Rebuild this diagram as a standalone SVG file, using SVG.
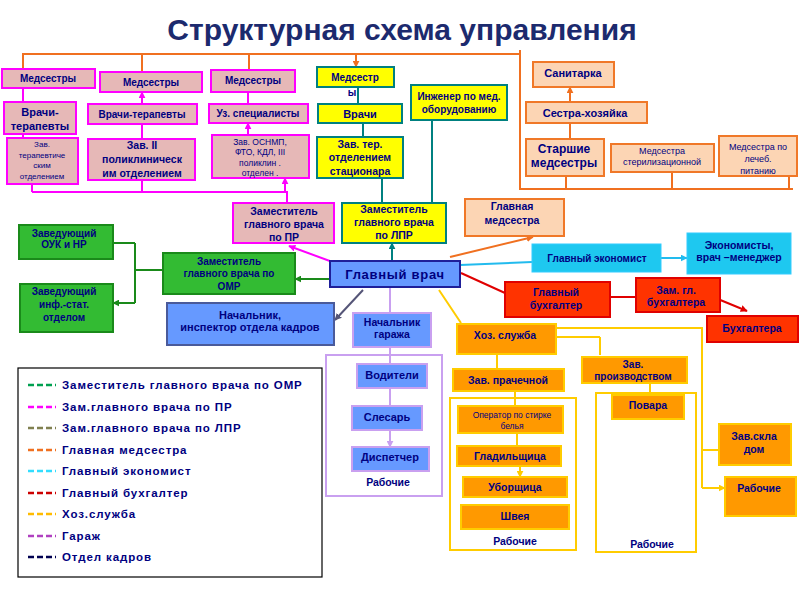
<svg xmlns="http://www.w3.org/2000/svg" width="800" height="600" viewBox="0 0 800 600">
<style>
text{font-family:"Liberation Sans",Arial,sans-serif;font-weight:bold;fill:#000080;text-anchor:middle}
.s{font-size:10.5px}
.m{font-size:10px}
.sm{font-size:8.5px;font-weight:normal}
.pink{fill:#e6b8b7;stroke:#ff00ff;stroke-width:2}
.peach{fill:#fcd5b4;stroke:#f07828;stroke-width:2}
.yel{fill:#ffff00;stroke:#008080;stroke-width:2}
.grn{fill:#33bb33;stroke:#1a8a1a;stroke-width:2}
.blu{fill:#6699ff;stroke:#4a5a9a;stroke-width:2}
.gar{fill:#6699ff;stroke:#c9a0f0;stroke-width:2}
.cyan{fill:#1ec8f0;stroke:#33ccff;stroke-width:1}
.red{fill:#ff3300;stroke:#e00000;stroke-width:2}
.org{fill:#ff9900;stroke:#ffcc00;stroke-width:2}
.frame{fill:#fff;stroke-width:2}
.c{fill:none;stroke-width:2}
.lg{font-size:11.5px;text-anchor:start;letter-spacing:0.9px}
.dash{stroke-width:2.5;stroke-dasharray:6,3}
</style>
<defs>
<marker id="aM" viewBox="0 0 10 10" refX="9" refY="5" markerWidth="7" markerHeight="7" markerUnits="userSpaceOnUse" orient="auto"><path d="M0,0L10,5L0,10z" fill="#ff00ff"/></marker>
<marker id="aO" viewBox="0 0 10 10" refX="9" refY="5" markerWidth="7" markerHeight="7" markerUnits="userSpaceOnUse" orient="auto"><path d="M0,0L10,5L0,10z" fill="#f07020"/></marker>
<marker id="aT" viewBox="0 0 10 10" refX="9" refY="5" markerWidth="7" markerHeight="7" markerUnits="userSpaceOnUse" orient="auto"><path d="M0,0L10,5L0,10z" fill="#008080"/></marker>
<marker id="aG" viewBox="0 0 10 10" refX="9" refY="5" markerWidth="7" markerHeight="7" markerUnits="userSpaceOnUse" orient="auto"><path d="M0,0L10,5L0,10z" fill="#1a8a1a"/></marker>
<marker id="aC" viewBox="0 0 10 10" refX="9" refY="5" markerWidth="7" markerHeight="7" markerUnits="userSpaceOnUse" orient="auto"><path d="M0,0L10,5L0,10z" fill="#22bbee"/></marker>
<marker id="aR" viewBox="0 0 10 10" refX="9" refY="5" markerWidth="7" markerHeight="7" markerUnits="userSpaceOnUse" orient="auto"><path d="M0,0L10,5L0,10z" fill="#e00000"/></marker>
<marker id="aY" viewBox="0 0 10 10" refX="9" refY="5" markerWidth="7" markerHeight="7" markerUnits="userSpaceOnUse" orient="auto"><path d="M0,0L10,5L0,10z" fill="#ffcc00"/></marker>
<marker id="aL" viewBox="0 0 10 10" refX="9" refY="5" markerWidth="7" markerHeight="7" markerUnits="userSpaceOnUse" orient="auto"><path d="M0,0L10,5L0,10z" fill="#c9a0f0"/></marker>
<marker id="aS" viewBox="0 0 10 10" refX="9" refY="5" markerWidth="7" markerHeight="7" markerUnits="userSpaceOnUse" orient="auto"><path d="M0,0L10,5L0,10z" fill="#555577"/></marker>
</defs>
<rect width="800" height="600" fill="#fff"/>
<text x="402" y="40" style="font-size:30px;fill:#1c2a6e">Структурная схема управления</text>

<g id="frames">
<rect x="326" y="355" width="116" height="141" class="frame" stroke="#c9a0f0"/>
<rect x="450" y="398" width="126" height="152" class="frame" stroke="#ffcc00"/>
<rect x="596" y="393" width="100" height="159" class="frame" stroke="#ffcc00"/>
<text x="388" y="486" class="s">Рабочие</text>
<text x="515" y="545" class="s">Рабочие</text>
<text x="652" y="548" class="s">Рабочие</text>
</g>

<g id="connectors">
<path class="c" stroke="#f07020" d="M22,54H520M520,50V189H793"/>
<path class="c" stroke="#f07020" marker-end="url(#aO)" d="M23,54V69M142,54V72M249,54V70M356,54V67"/>
<path class="c" stroke="#f07020" marker-end="url(#aO)" d="M566,189V176M672,189V172M789,189V176M570,139V123M570,102V87"/>
<path class="c" stroke="#ff00ff" d="M32,192H287V203"/>
<path class="c" stroke="#ff00ff" marker-end="url(#aM)" d="M32,192V184M142,192V180M285,192V178"/>
<path class="c" stroke="#ff00ff" marker-end="url(#aM)" d="M23,138V88M142,139V124M142,104V92"/>
<path class="c" stroke="#ff00ff" d="M248,104V92"/>
<path class="c" stroke="#ff00ff" marker-end="url(#aM)" d="M248,135V123"/>
<path class="c" stroke="#ff00ff" marker-end="url(#aM)" d="M338,264L289,246"/>
<path class="c" stroke="#008080" marker-end="url(#aT)" d="M382,203V178M432,203V120M363,137V123M358,104V87M392,261V243"/>
<path class="c" stroke="#1a8a1a" marker-end="url(#aG)" d="M330,279H295"/>
<path class="c" stroke="#1a8a1a" d="M163,270H135M135,243V303"/>
<path class="c" stroke="#1a8a1a" marker-end="url(#aG)" d="M135,243H113M135,303H113"/>
<path class="c" stroke="#f07020" marker-end="url(#aO)" d="M450,257L533,237"/>
<path class="c" stroke="#22bbee" marker-end="url(#aC)" d="M460,265L532,262M661,258H687"/>
<path class="c" stroke="#e00000" marker-end="url(#aR)" d="M461,273L505,293M610,297H636M713,297L747,311"/>
<path class="c" stroke="#555577" marker-end="url(#aS)" d="M363,290L335,320"/>
<path class="c" stroke="#c9a0f0" marker-end="url(#aL)" d="M390,287V313M390,347V364M390,388V406M390,430V447"/>
<path class="c" stroke="#ffcc00" marker-end="url(#aY)" d="M439,290L461,323M497,354V369M515,391V406M517,433V446M520,466V477"/>
<path class="c" stroke="#ffcc00" d="M540,328H702V488M540,337H600"/>
<path class="c" stroke="#ffcc00" marker-end="url(#aY)" d="M600,337V355M702,450H719M702,488H725"/>
<path class="c" stroke="#ffcc00" d="M650,383V395"/>
</g>

<g id="ms1"><rect x="2" y="69" width="93" height="19" class="pink"/><text x="48" y="82" class="m">Медсестры</text></g>
<g id="ms2"><rect x="100" y="72" width="102" height="20" class="pink"/><text x="151" y="86" class="m">Медсестры</text></g>
<g id="ms3"><rect x="211" y="70" width="84" height="22" class="pink"/><text x="253" y="84" class="m">Медсестры</text></g>
<g id="vt1"><rect x="4" y="102" width="72" height="32" class="pink"/><text x="40" y="116" style="font-size:11px">Врачи-</text><text x="40" y="130" style="font-size:11px">терапевты</text></g>
<g id="vt2"><rect x="88" y="104" width="109" height="20" class="pink"/><text x="142" y="118" class="m">Врачи-терапевты</text></g>
<g id="uz"><rect x="209" y="104" width="99" height="19" class="pink"/><text x="258" y="117" class="m">Уз. специалисты</text></g>
<g id="zt1"><rect x="7" y="138" width="71" height="46" class="pink"/><text class="sm" x="42" y="147" style="font-size:8px">Зав.</text><text class="sm" x="42" y="158" style="font-size:8px">терапевтиче</text><text class="sm" x="42" y="168" style="font-size:8px">ским</text><text class="sm" x="42" y="179" style="font-size:8px">отделением</text></g>
<g id="z2"><rect x="88" y="139" width="107" height="41" class="pink"/><text x="142" y="149" class="s">Зав. II</text><text x="142" y="163" class="s">поликлиническ</text><text x="142" y="177" class="s">им отделением</text></g>
<g id="zo"><rect x="212" y="135" width="97" height="43" class="pink"/><text class="sm" x="260" y="145">Зав.  ОСНМП,</text><text class="sm" x="260" y="155">ФТО, КДЛ, III</text><text class="sm" x="260" y="166">поликлин .</text><text class="sm" x="260" y="176">отделен .</text></g>
<g id="zpr"><rect x="233" y="203" width="101" height="40" class="pink"/><text x="284" y="215" class="s">Заместитель</text><text x="284" y="228" class="s">главного врача</text><text x="284" y="241" class="s">по ПР</text></g>

<g id="yms"><rect x="317" y="67" width="77" height="20" class="yel"/><text x="355" y="81" class="m">Медсестр</text><text x="352" y="96" class="m">ы</text></g>
<g id="yv"><rect x="318" y="104" width="84" height="19" class="yel"/><text x="360" y="118" style="font-size:11px">Врачи</text></g>
<g id="yz"><rect x="317" y="137" width="86" height="41" class="yel"/><text x="360" y="148" class="s">Зав. тер.</text><text x="360" y="161" class="s">отделением</text><text x="360" y="175" class="s">стационара</text></g>
<g id="ing"><rect x="411" y="85" width="96" height="35" class="yel"/><text x="459" y="100" class="m">Инженер по мед.</text><text x="459" y="113" class="m">оборудованию</text></g>
<g id="lpr"><rect x="342" y="203" width="104" height="40" class="yel"/><text x="394" y="213" class="s">Заместитель</text><text x="394" y="226" class="s">главного врача</text><text x="394" y="239" class="s">по ЛПР</text></g>

<g id="san"><rect x="533" y="62" width="81" height="25" class="peach"/><text x="573" y="77" style="font-size:11px">Санитарка</text></g>
<g id="sh"><rect x="526" y="102" width="121" height="21" class="peach"/><text x="585" y="117" style="font-size:11px">Сестра-хозяйка</text></g>
<g id="stm"><rect x="526" y="139" width="78" height="37" class="peach"/><text x="564" y="153" style="font-size:12px">Старшие</text><text x="564" y="167" style="font-size:12px">медсестры</text></g>
<g id="ster"><rect x="611" y="144" width="103" height="28" class="peach"/><text class="sm" x="662" y="154" style="font-size:9px">Медсестра</text><text class="sm" x="662" y="165" style="font-size:9px">стерилизационной</text></g>
<g id="pit"><rect x="719" y="136" width="78" height="40" class="peach"/><text class="sm" x="758" y="150" style="font-size:9px">Медсестра по</text><text class="sm" x="758" y="162" style="font-size:9px">лечеб.</text><text class="sm" x="758" y="174" style="font-size:9px">питанию</text></g>
<g id="gm"><rect x="465" y="199" width="99" height="37" class="peach"/><text x="512" y="210" class="s">Главная</text><text x="512" y="224" class="s">медсестра</text></g>

<g id="ouk"><rect x="19" y="225" width="94" height="34" class="grn"/><text x="64" y="237" class="m">Заведующий</text><text x="64" y="248" class="m">ОУК и НР</text></g>
<g id="inf"><rect x="20" y="284" width="93" height="48" class="grn"/><text x="64" y="295" class="m">Заведующий</text><text x="64" y="308" class="m">инф.-стат.</text><text x="64" y="321" class="m">отделом</text></g>
<g id="omr"><rect x="163" y="253" width="132" height="41" class="grn"/><text x="229" y="265" class="m">Заместитель</text><text x="229" y="277" class="m">главного врача по</text><text x="229" y="290" class="m">ОМР</text></g>

<g id="gv"><rect x="330" y="261" width="130" height="26" fill="#6699ff" stroke="#1f1f99" stroke-width="2"/><text x="395" y="279" style="font-size:13px;letter-spacing:0.7px">Главный врач</text></g>
<g id="kadr"><rect x="167" y="303" width="167" height="42" class="blu"/><text x="250" y="319" style="font-size:11px">Начальник,</text><text x="250" y="331" style="font-size:11px">инспектор отдела кадров</text></g>
<g id="gar"><rect x="353" y="313" width="78" height="34" class="gar"/><text x="392" y="326" class="s">Начальник</text><text x="392" y="338" class="s">гаража</text></g>
<g id="vod"><rect x="357" y="364" width="70" height="24" class="gar"/><text x="392" y="379" style="font-size:11px">Водители</text></g>
<g id="sles"><rect x="352" y="406" width="70" height="24" class="gar"/><text x="387" y="421" style="font-size:11px">Слесарь</text></g>
<g id="disp"><rect x="352" y="447" width="77" height="24" class="gar"/><text x="390" y="461" style="font-size:11px">Диспетчер</text></g>

<g id="gek"><rect x="532" y="244" width="129" height="28" class="cyan"/><text x="597" y="262" class="m">Главный экономист</text></g>
<g id="eko"><rect x="687" y="233" width="104" height="41" class="cyan"/><text x="739" y="249" class="s">Экономисты,</text><text x="739" y="261" class="s">врач –менеджер</text></g>

<g id="gb"><rect x="505" y="282" width="105" height="35" class="red"/><text x="556" y="296" class="s">Главный</text><text x="556" y="309" class="s">бухгалтер</text></g>
<g id="zgb"><rect x="636" y="278" width="84" height="34" class="red"/><text x="676" y="294" class="s">Зам. гл.</text><text x="676" y="306" class="s">бухгалтера</text></g>
<g id="buh"><rect x="707" y="316" width="91" height="26" class="red"/><text x="752" y="332" class="s">Бухгалтера</text></g>

<g id="hoz"><rect x="457" y="324" width="99" height="30" class="org"/><text x="505" y="339" class="s">Хоз. служба</text></g>
<g id="prach"><rect x="453" y="369" width="111" height="22" class="org"/><text x="508" y="384" class="s">Зав. прачечной</text></g>
<g id="oper"><rect x="458" y="406" width="105" height="27" class="org"/><text class="sm" x="512" y="418" style="font-size:8.5px">Оператор по стирке</text><text class="sm" x="512" y="429" style="font-size:8.5px">белья</text></g>
<g id="glad"><rect x="457" y="446" width="104" height="20" class="org"/><text x="510" y="460" class="s">Гладильщица</text></g>
<g id="ubor"><rect x="463" y="477" width="104" height="20" class="org"/><text x="515" y="491" class="s">Уборщица</text></g>
<g id="shv"><rect x="461" y="505" width="108" height="24" class="org"/><text x="515" y="520" class="s">Швея</text></g>
<g id="proizv"><rect x="582" y="357" width="105" height="26" class="org"/><text x="633" y="368" class="m">Зав.</text><text x="633" y="380" class="m">производством</text></g>
<g id="povar"><rect x="612" y="395" width="72" height="24" class="org"/><text x="648" y="409" class="s">Повара</text></g>
<g id="sklad"><rect x="719" y="424" width="72" height="41" class="org"/><text x="754" y="440" class="s">Зав.скла</text><text x="754" y="453" class="s">дом</text></g>
<g id="rab"><rect x="725" y="477" width="71" height="39" class="org"/><text x="759" y="492" class="s">Рабочие</text></g>

<g id="legend">
<rect x="18" y="368" width="304" height="209" fill="#fff" stroke="#000" stroke-width="1.2"/>
<line x1="28" y1="385" x2="56" y2="385" class="dash" stroke="#00a050"/><text class="lg" x="62" y="389">Заместитель главного врача по ОМР</text>
<line x1="28" y1="407" x2="56" y2="407" class="dash" stroke="#ff00ff"/><text class="lg" x="62" y="411">Зам.главного врача по ПР</text>
<line x1="28" y1="428" x2="56" y2="428" class="dash" stroke="#808050"/><text class="lg" x="62" y="432">Зам.главного врача по ЛПР</text>
<line x1="28" y1="450" x2="56" y2="450" class="dash" stroke="#f07020"/><text class="lg" x="62" y="454">Главная медсестра</text>
<line x1="28" y1="471" x2="56" y2="471" class="dash" stroke="#33ddff"/><text class="lg" x="62" y="475">Главный экономист</text>
<line x1="28" y1="493" x2="56" y2="493" class="dash" stroke="#cc0000"/><text class="lg" x="62" y="497">Главный бухгалтер</text>
<line x1="28" y1="514" x2="56" y2="514" class="dash" stroke="#ffbb00"/><text class="lg" x="62" y="518">Хоз.служба</text>
<line x1="28" y1="536" x2="56" y2="536" class="dash" stroke="#b040c0"/><text class="lg" x="62" y="540">Гараж</text>
<line x1="28" y1="557" x2="56" y2="557" class="dash" stroke="#000050"/><text class="lg" x="62" y="561">Отдел кадров</text>
</g>
</svg>
